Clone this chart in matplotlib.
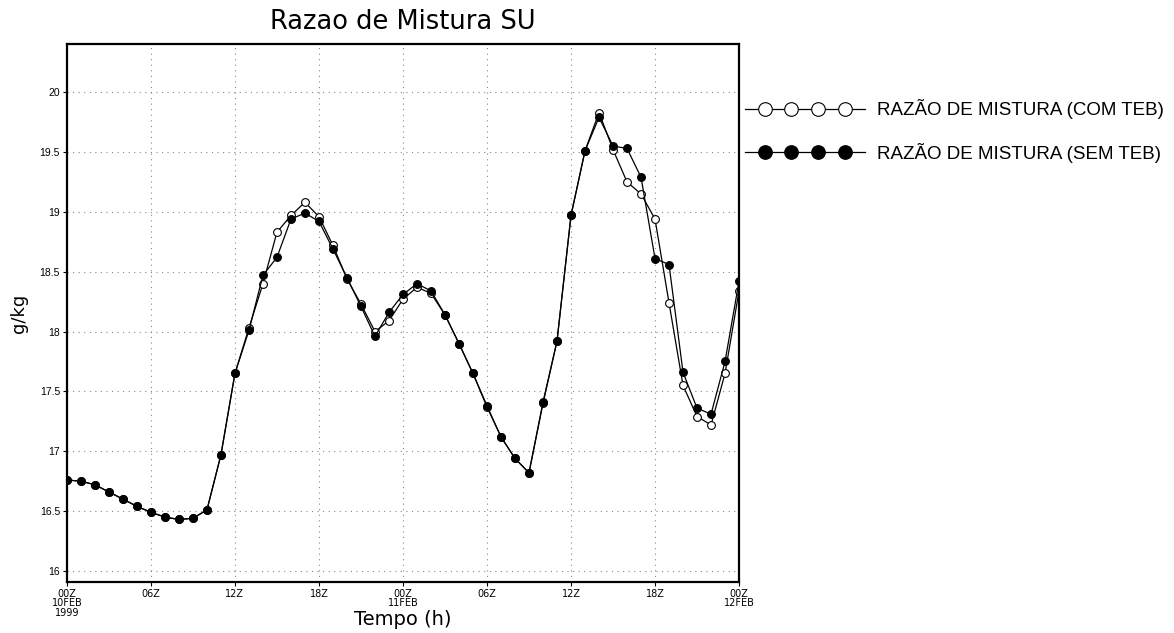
import matplotlib
matplotlib.use("Agg")
import matplotlib.pyplot as plt
from matplotlib.legend_handler import HandlerLine2D
from matplotlib.lines import Line2D
import numpy as np

# hours since 00Z 10FEB1999
hours = np.arange(0, 49)

# mixing ratio (g/kg)
com_teb = [16.76, 16.75, 16.72, 16.66, 16.60, 16.54, 16.49, 16.45, 16.43, 16.44,
           16.51, 16.97, 17.65, 18.03, 18.40, 18.83, 18.97, 19.08, 18.96, 18.72,
           18.44, 18.23, 18.00, 18.09, 18.27, 18.37, 18.32, 18.14, 17.90, 17.65,
           17.37, 17.12, 16.94, 16.82, 17.40, 17.92, 18.97, 19.51, 19.83, 19.52,
           19.25, 19.15, 18.94, 18.24, 17.55, 17.29, 17.22, 17.65, 18.34]
sem_teb = [16.76, 16.75, 16.72, 16.66, 16.60, 16.54, 16.49, 16.45, 16.43, 16.44,
           16.51, 16.97, 17.65, 18.01, 18.47, 18.62, 18.94, 18.99, 18.92, 18.69,
           18.45, 18.21, 17.96, 18.16, 18.31, 18.40, 18.34, 18.14, 17.90, 17.65,
           17.38, 17.12, 16.94, 16.82, 17.41, 17.92, 18.97, 19.51, 19.79, 19.55,
           19.53, 19.29, 18.61, 18.56, 17.66, 17.36, 17.31, 17.75, 18.42]

xticks = [0, 6, 12, 18, 24, 30, 36, 42, 48]
xticklabels = ["00Z\n10FEB\n1999", "06Z", "12Z", "18Z", "00Z\n11FEB",
               "06Z", "12Z", "18Z", "00Z\n12FEB"]
yticks = [16, 16.5, 17, 17.5, 18, 18.5, 19, 19.5, 20]
yticklabels = ["16", "16.5", "17", "17.5", "18", "18.5", "19", "19.5", "20"]


class LegendLine(HandlerLine2D):
    # line runs across the whole handle, 4 markers inset from the ends
    def create_artists(self, legend, orig_handle, xdescent, ydescent,
                       width, height, fontsize, trans):
        pad = 1.05 * fontsize
        x0, x1 = -xdescent, -xdescent + width
        xdata = np.concatenate([[x0], np.linspace(x0 + pad, x1 - pad, 4), [x1]])
        ydata = np.full_like(xdata, (height - ydescent) / 2)
        legline = Line2D(xdata, ydata)
        self.update_prop(legline, orig_handle, legend)
        legline.set_markevery([1, 2, 3, 4])
        legline.set_markersize(legline.get_markersize() * legend.markerscale)
        legline.set_transform(trans)
        return [legline]


fig = plt.figure(figsize=(11.74, 6.33), dpi=100)
ax = fig.add_axes([0.057, 0.081, 0.5725, 0.849])

ax.plot(hours, com_teb, color="black", lw=0.9, marker="o", ms=5.6,
        mfc="white", mec="black", mew=0.8, label="RAZÃO DE MISTURA (COM TEB)")
ax.plot(hours, sem_teb, color="black", lw=0.9, marker="o", ms=5.6,
        mfc="black", mec="black", mew=0.8, label="RAZÃO DE MISTURA (SEM TEB)")

ax.set_xlim(0, 48)
ax.set_ylim(15.91, 20.4)
ax.set_xticks(xticks)
ax.set_xticklabels(xticklabels, fontsize=7, linespacing=0.95)
ax.set_yticks(yticks)
ax.set_yticklabels(yticklabels, fontsize=7.5, family="Liberation Sans")
ax.tick_params(direction="out", length=3, width=0.8, pad=2)
ax.grid(True, color="#888888", lw=0.8, linestyle=(0, (1, 4)))

for s in ax.spines.values():
    s.set_linewidth(1.6)

ax.set_title("Razao de Mistura SU", fontsize=18.5, pad=11)
ax.set_xlabel("Tempo (h)", fontsize=14, labelpad=-6)
ax.set_ylabel("g/kg", fontsize=13, labelpad=8)

hm = LegendLine()
fig.legend(loc="upper left", bbox_to_anchor=(0.6345, 0.843), frameon=False,
           prop={"family": "Liberation Sans", "size": 13.5},
           handlelength=6.4, handletextpad=0.62, labelspacing=1.25,
           markerscale=1.75, borderpad=0, borderaxespad=0,
           handler_map={ax.lines[0]: hm, ax.lines[1]: hm})

fig.savefig("out.png", dpi=100)
